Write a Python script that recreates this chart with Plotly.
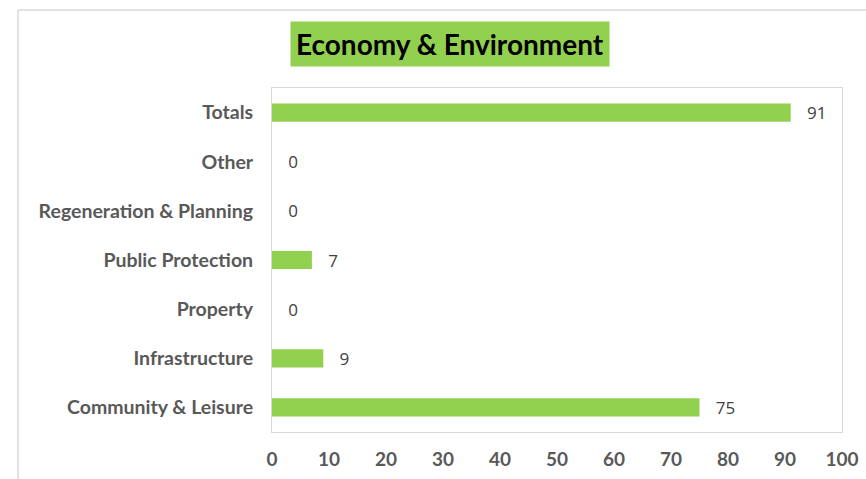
import plotly.graph_objects as go

categories = ["Community & Leisure", "Infrastructure", "Property", "Public Protection",
              "Regeneration & Planning", "Other", "Totals"]
values = [75, 9, 0, 7, 0, 0, 91]
x_ticks = [0, 10, 20, 30, 40, 50, 60, 70, 80, 90, 100]
title_text = "Economy & Environment"

GREEN = "#92D050"
W, H = 866, 479
L, R, T, B = 272, 24, 88, 47
pw, ph = W - L - R, H - T - B

fig = go.Figure(go.Bar(
    x=values, y=categories, orientation="h",
    marker=dict(color=GREEN, line=dict(width=0)),
    texttemplate="\u00a0\u00a0\u00a0%{x}", textposition="outside",
    constraintext="none",
    textfont=dict(family="Open Sans", size=17, color="#404040"),
    cliponaxis=False, width=0.37,
))

def px_x(p):
    return (p - L) / pw

def px_y(p):
    return (H - B - p) / ph

fig.update_layout(
    width=W, height=H,
    margin=dict(l=L, r=R, t=T, b=B, autoexpand=False),
    paper_bgcolor="white", plot_bgcolor="white",
    showlegend=False,
    xaxis=dict(range=[0, 100], tickvals=x_ticks, showgrid=False, zeroline=False,
               showline=True, mirror=True, linecolor="#D9D9D9", linewidth=1,
               tickfont=dict(family="Lato", size=19, color="#595959", weight="bold"),
               ticklabelstandoff=10, fixedrange=True, automargin=False),
    yaxis=dict(showgrid=False, zeroline=False,
               showline=True, mirror=True, linecolor="#D9D9D9", linewidth=1,
               tickfont=dict(family="Lato", size=19.5, color="#595959", weight="bold"),
               ticklabelstandoff=14, fixedrange=True, automargin=False),
    annotations=[dict(
        text="<b>" + title_text + "</b>", xref="paper", yref="paper",
        x=px_x(450), y=px_y(44), xanchor="center", yanchor="middle",
        showarrow=False, bgcolor=GREEN, borderpad=5,
        font=dict(family="Lato", size=28, color="#000000"),
    )],
    shapes=[
        dict(type="line", xref="paper", yref="paper", x0=px_x(18), x1=px_x(870),
             y0=px_y(10), y1=px_y(10), line=dict(color="#D9D9D9", width=1.5)),
        dict(type="line", xref="paper", yref="paper", x0=px_x(18), x1=px_x(18),
             y0=px_y(10), y1=px_y(482), line=dict(color="#D9D9D9", width=1.5)),
    ],
)

fig.write_html("out.html", config={"displayModeBar": False},
               post_script="document.body.style.margin='0';document.body.style.overflow='hidden';")
